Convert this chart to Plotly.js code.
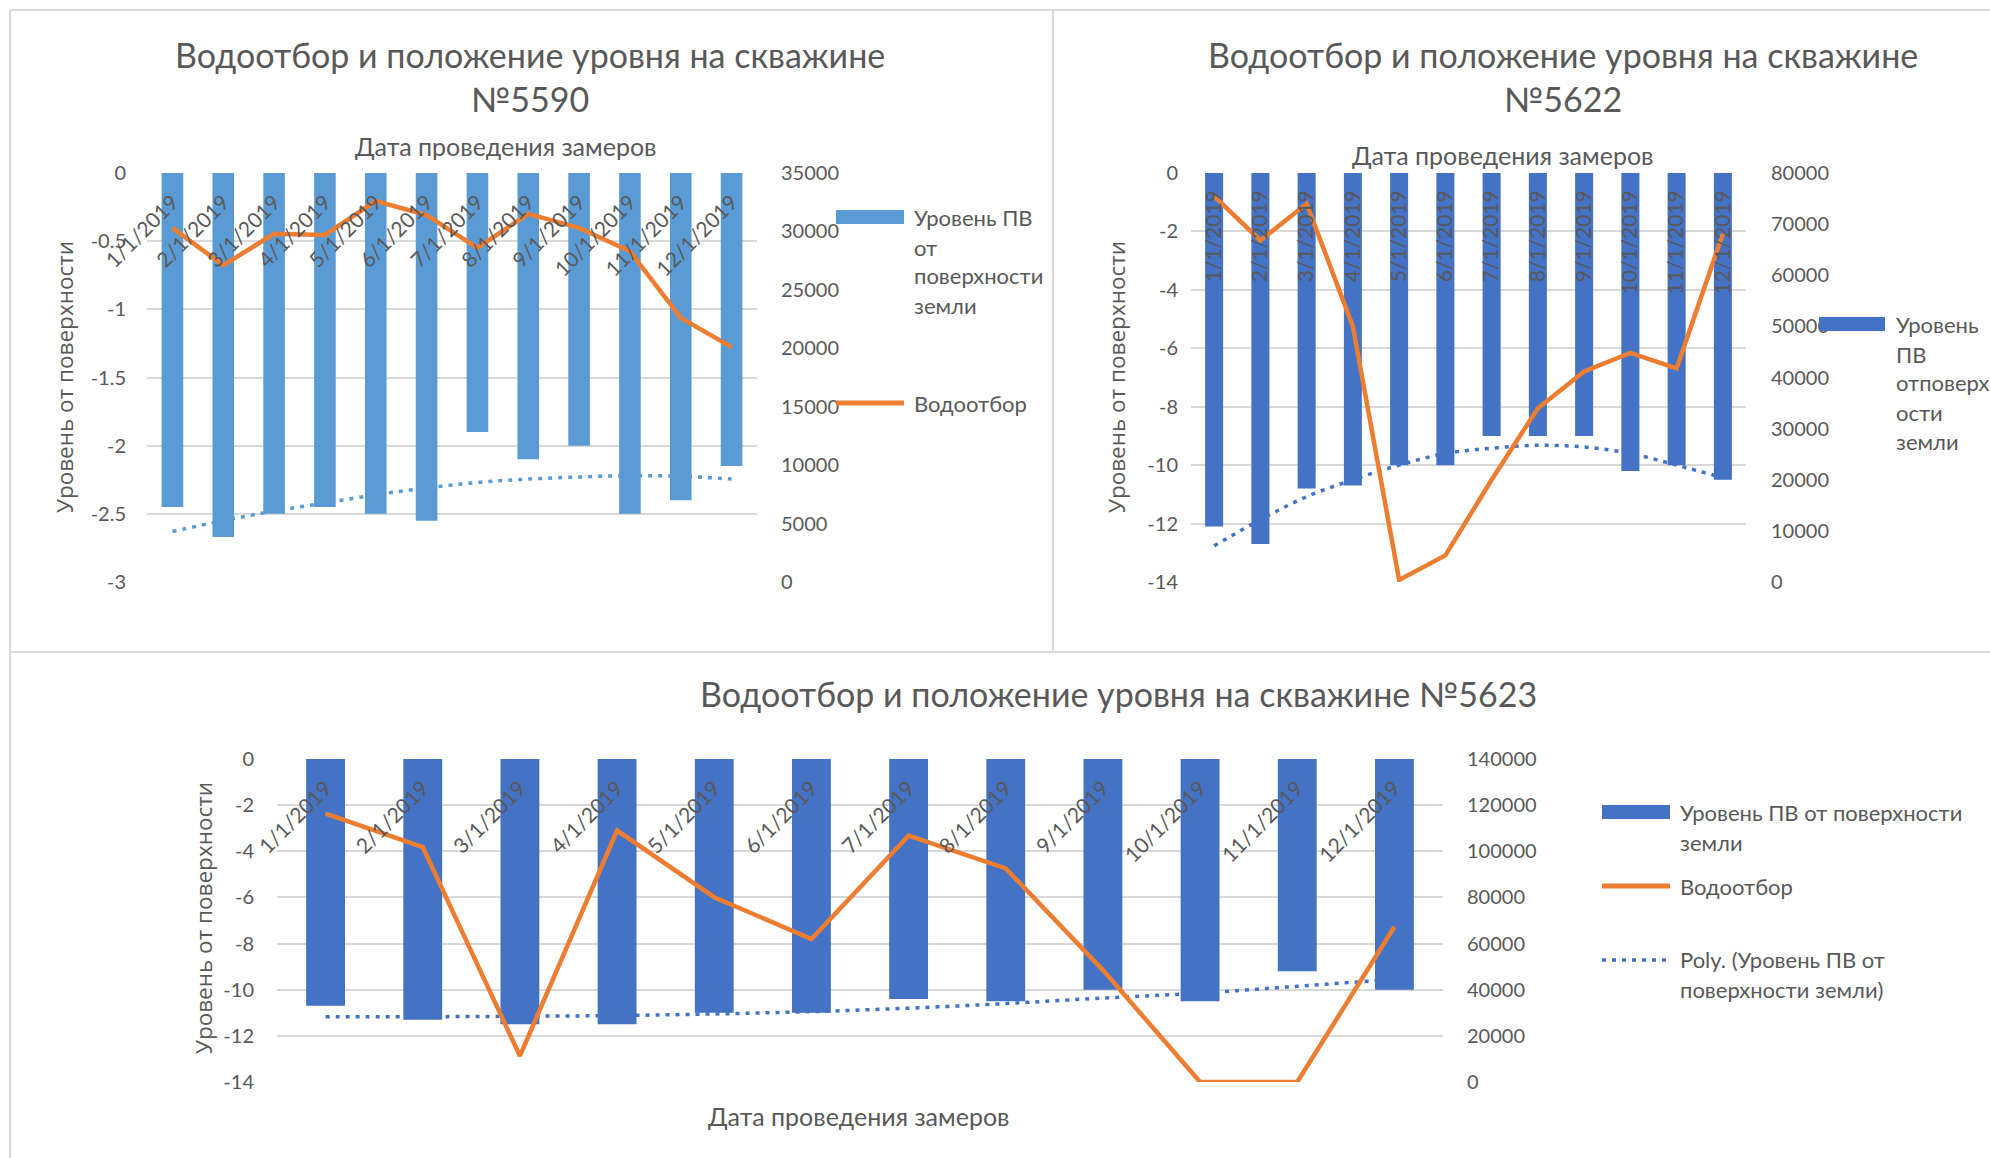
<!DOCTYPE html>
<html><head><meta charset="utf-8">
<script src="https://cdn.plot.ly/plotly-3.0.1.min.js"></script>
<style>html,body{margin:0;padding:0;background:#fff;overflow:hidden}#chart{width:1990px;height:1158px}</style>
</head><body><div id="chart"></div>
<script>
// ---------- data ----------
const categories = ['1/1/2019','2/1/2019','3/1/2019','4/1/2019','5/1/2019','6/1/2019','7/1/2019','8/1/2019','9/1/2019','10/1/2019','11/1/2019','12/1/2019'];

const level5590 = [-2.45, -2.67, -2.5, -2.45, -2.5, -2.55, -1.9, -2.1, -2.0, -2.5, -2.4, -2.15];
const withdrawal5590 = [30300, 27100, 29800, 29700, 32600, 31400, 28600, 31500, 30300, 28300, 22600, 20100];
const trend5590 = [-2.63, -2.55, -2.48, -2.42, -2.36, -2.31, -2.27, -2.245, -2.23, -2.22, -2.225, -2.245];

const level5622 = [-12.1, -12.7, -10.8, -10.7, -10.0, -10.0, -9.0, -9.0, -9.0, -10.2, -10.0, -10.5];
const withdrawal5622 = [75500, 66800, 74000, 50000, 400, 5200, 20000, 34000, 41200, 44800, 41800, 68100];
const trend5622 = [-12.76, -11.87, -11.08, -10.5, -10.0, -9.6, -9.42, -9.32, -9.38, -9.6, -10.0, -10.43];

const level5623 = [-10.7, -11.3, -11.5, -11.5, -11.0, -11.0, -10.4, -10.5, -10.0, -10.5, -9.2, -10.0];
const withdrawal5623 = [116300, 101800, 11300, 109000, 80100, 62000, 106800, 92600, 48500, 0, 0, 67300];
const trend5623 = [-11.17, -11.17, -11.15, -11.12, -11.05, -10.95, -10.8, -10.6, -10.36, -10.15, -9.85, -9.55];

const ticks5590 = [0, -0.5, -1, -1.5, -2, -2.5, -3];
const tickText5590 = ['0', '-0.5', '-1', '-1.5', '-2', '-2.5', '-3'];
const ticks14 = [0, -2, -4, -6, -8, -10, -12, -14];
const tickText14 = ['0', '-2', '-4', '-6', '-8', '-10', '-12', '-14'];

const titleMain = 'Водоотбор и положение уровня на скважине';
const xTitle = 'Дата проведения замеров';
const yTitle = 'Уровень от поверхности';
const nameLevel = 'Уровень ПВ от поверхности земли';
const nameWithdrawal = 'Водоотбор';
const nameTrend = 'Poly. (Уровень ПВ от поверхности земли)';

// ---------- layout helpers ----------
const W = 1990, H = 1158;
const px = v => v / W, py = v => 1 - v / H;
const FONT = 'Lato, "Open Sans", sans-serif';
const FONT2 = '"Open Sans", "DejaVu Sans", sans-serif';
const GREY = '#595959';
const GRID = '#d9d9d9';
const BLUE1 = '#5B9BD5', BLUE2 = '#4472C4', ORANGE = '#ED7D31';
const DOTS = '4px,6px';
const tickFont = {family: FONT, size: 20, color: GREY};
const catFont = {family: FONT, size: 21, color: GREY};

function xAxis(x0, x1, yTop, angle, standoff) {
  return {domain: [px(x0), px(x1)], anchor: 'free', position: py(yTop), side: 'bottom',
    type: 'category', range: [-0.5, 11.5], showgrid: false, showline: false, zeroline: false,
    ticks: '', tickangle: angle, tickfont: catFont, ticklabelstandoff: standoff, fixedrange: true};
}
function yLeft(anchor, y0, y1, range, vals, text, standoff) {
  return {domain: [py(y1), py(y0)], anchor: anchor, side: 'left', range: range,
    tickmode: 'array', tickvals: vals, ticktext: text, showgrid: true, gridcolor: GRID, gridwidth: 2,
    zeroline: false, showline: false, ticks: '', tickfont: tickFont, ticklabelstandoff: standoff, fixedrange: true};
}
function yRight(anchor, over, range, dtick, standoff) {
  return {overlaying: over, anchor: anchor, side: 'right', range: range, dtick: dtick, tick0: 0,
    tickformat: 'd', showgrid: false, zeroline: false, showline: false, ticks: '',
    tickfont: tickFont, ticklabelstandoff: standoff, fixedrange: true};
}

function charts(level, withdrawal, trend, xa, ya, ya2, color, width) {
  return [
    {type: 'bar', x: categories, y: level, xaxis: xa, yaxis: ya, width: width,
     marker: {color: color}, name: nameLevel, showlegend: false, hoverinfo: 'skip'},
    {type: 'scatter', mode: 'lines', x: categories, y: trend, xaxis: xa, yaxis: ya,
     line: {color: color, width: 3.5, dash: DOTS, shape: 'spline'}, name: nameTrend, showlegend: false, hoverinfo: 'skip'},
    {type: 'scatter', mode: 'lines', x: categories, y: withdrawal, xaxis: xa, yaxis: ya2, cliponaxis: false,
     line: {color: ORANGE, width: 4.5}, name: nameWithdrawal, showlegend: false, hoverinfo: 'skip'}
  ];
}

const data = [].concat(
  charts(level5590, withdrawal5590, trend5590, 'x', 'y', 'y2', BLUE1, 0.425),
  charts(level5622, withdrawal5622, trend5622, 'x2', 'y3', 'y4', BLUE2, 0.39),
  charts(level5623, withdrawal5623, trend5623, 'x3', 'y5', 'y6', BLUE2, 0.40)
);

function ann(x, y, text, size, opts) {
  return Object.assign({xref: 'paper', yref: 'paper', x: px(x), y: py(y), text: text, showarrow: false,
    xanchor: 'center', yanchor: 'middle', font: {family: FONT, size: size, color: GREY}}, opts || {});
}
const legTxt = (x, y, t) => ann(x, y, t, 22, {xanchor: 'left'});
const yT = (x, y) => ann(x, y, yTitle, 22.5, {textangle: -90, font: {family: FONT2, size: 22.5, color: GREY}});

const annotations = [
  ann(530, 55, titleMain, 34), ann(530, 98, '№5590', 34),
  ann(1563, 55, titleMain, 34), ann(1563, 98, '№5622', 34),
  ann(1118, 694, titleMain + ' №5623', 34),
  ann(505, 146, xTitle, 25), ann(1502, 155, xTitle, 25), ann(858, 1116, xTitle, 25),
  yT(64, 377), yT(1116, 377), yT(203, 918),
  // legend 5590
  legTxt(912, 218, 'Уровень ПВ'), legTxt(912, 247, 'от'), legTxt(912, 276, 'поверхности'), legTxt(912, 305, 'земли'),
  legTxt(912, 403, nameWithdrawal),
  // legend 5622
  legTxt(1894, 324, 'Уровень'), legTxt(1894, 354, 'ПВ'), legTxt(1894, 383, 'отповерх'), legTxt(1894, 412, 'ости'), legTxt(1894, 442, 'земли'),
  // legend 5623
  legTxt(1678, 812, 'Уровень ПВ от поверхности'), legTxt(1678, 842, 'земли'),
  legTxt(1678, 886, nameWithdrawal),
  legTxt(1678, 960, 'Poly. (Уровень ПВ от'), legTxt(1678, 989, 'поверхности земли)')
];

const line = (x0, y0, x1, y1, color, width, dash) => ({type: 'line', xref: 'paper', yref: 'paper',
  x0: px(x0), y0: py(y0), x1: px(x1), y1: py(y1), line: {color: color, width: width, dash: dash || 'solid'}});
const rect = (x0, y0, x1, y1, color) => ({type: 'rect', xref: 'paper', yref: 'paper',
  x0: px(x0), y0: py(y0), x1: px(x1), y1: py(y1), fillcolor: color, line: {width: 0}});

const shapes = [
  // panel borders
  line(10, 10, 1990, 10, GRID, 2), line(10, 10, 10, 1158, GRID, 2),
  line(1053, 10, 1053, 652, GRID, 2), line(10, 652, 1990, 652, GRID, 2),
  // legend symbols
  rect(836, 210, 904, 224, BLUE1), line(836, 403, 904, 403, ORANGE, 5),
  rect(1819, 317, 1885, 331, BLUE2),
  rect(1602, 805, 1670, 819, BLUE2), line(1602, 886, 1670, 886, ORANGE, 5),
  line(1602, 960, 1670, 960, BLUE2, 3.5, DOTS)
];

const layout = {
  width: W, height: H, margin: {l: 0, r: 0, t: 0, b: 0},
  paper_bgcolor: '#ffffff', plot_bgcolor: 'rgba(0,0,0,0)', showlegend: false,
  font: {family: FONT, color: GREY},
  xaxis: xAxis(147, 757, 173, -45, 12),
  yaxis: yLeft('x', 173, 582, [-3, 0], ticks5590, tickText5590, 20),
  yaxis2: yRight('x', 'y', [0, 35000], 5000, 23),
  xaxis2: xAxis(1191, 1746, 173, -90, 12),
  yaxis3: yLeft('x2', 173, 582, [-14, 0], ticks14, tickText14, 12),
  yaxis4: yRight('x2', 'y3', [0, 80000], 10000, 24),
  xaxis3: xAxis(277, 1443, 759, -45, 12),
  yaxis5: yLeft('x3', 759, 1082, [-14, 0], ticks14, tickText14, 22),
  yaxis6: yRight('x3', 'y5', [0, 140000], 20000, 23),
  annotations: annotations,
  shapes: shapes
};

Plotly.newPlot('chart', data, layout, {displayModeBar: false, staticPlot: true});
</script></body></html>
